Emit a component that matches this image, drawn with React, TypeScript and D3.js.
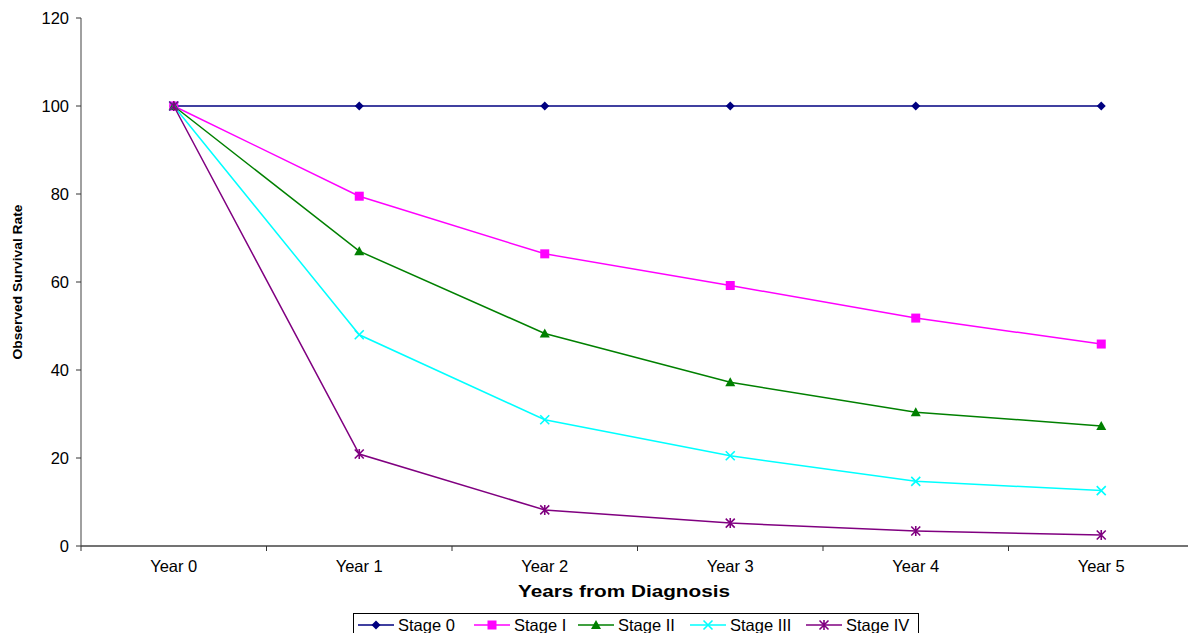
import React from "react";
import * as d3 from "d3";

const categories = ["Year 0", "Year 1", "Year 2", "Year 3", "Year 4", "Year 5"];
const stage0 = [100, 100, 100, 100, 100, 100];
const stageI = [100, 79.5, 66.4, 59.2, 51.8, 45.9];
const stageII = [100, 67.0, 48.3, 37.2, 30.4, 27.3];
const stageIII = [100, 48.0, 28.7, 20.5, 14.7, 12.6];
const stageIV = [100, 20.9, 8.2, 5.2, 3.4, 2.5];
const seriesNames = ["Stage 0", "Stage I", "Stage II", "Stage III", "Stage IV"];
const yTicks = [0, 20, 40, 60, 80, 100, 120];

const seriesValues = [stage0, stageI, stageII, stageIII, stageIV];
const colors = ["#000080", "#FF00FF", "#008000", "#00FFFF", "#800080"];
const markers = ["diamond", "square", "triangle", "x", "star"];

const W = 1188;
const H = 633;
const left = 81;
const top = 18;
const bottom = 546;

function Marker({ type, x, y, color }: { type: string; x: number; y: number; color: string }) {
  if (type === "diamond") {
    const s = 4.5;
    return <path d={`M${x},${y - s}L${x + s},${y}L${x},${y + s}L${x - s},${y}Z`} fill={color} />;
  }
  if (type === "square") {
    const s = 4.5;
    return <rect x={x - s} y={y - s} width={s * 2} height={s * 2} fill={color} />;
  }
  if (type === "triangle") {
    const s = 5;
    return <path d={`M${x},${y - s}L${x + s},${y + s * 0.8}L${x - s},${y + s * 0.8}Z`} fill={color} />;
  }
  if (type === "x") {
    const s = 4.5;
    return (
      <path d={`M${x - s},${y - s}L${x + s},${y + s}M${x - s},${y + s}L${x + s},${y - s}`} stroke={color} strokeWidth={1.6} fill="none" />
    );
  }
  const s = 4.5;
  return (
    <path
      d={`M${x - s},${y - s}L${x + s},${y + s}M${x - s},${y + s}L${x + s},${y - s}M${x},${y - s - 0.5}L${x},${y + s + 0.5}`}
      stroke={color}
      strokeWidth={1.6}
      fill="none"
    />
  );
}

export default function App() {
  const x = d3.scaleBand<string>().domain(categories).range([left, left + 6 * 185.5]).padding(0);
  const y = d3.scaleLinear().domain([0, 120]).range([bottom, top]);
  const cx = (c: string) => (x(c) as number) + x.bandwidth() / 2;
  const line = d3
    .line<number>()
    .x((_, i) => cx(categories[i]))
    .y((d) => y(d));

  const legendItems = [
    { lx: 358, tx: 398 },
    { lx: 474, tx: 514 },
    { lx: 578, tx: 618 },
    { lx: 690, tx: 730 },
    { lx: 806, tx: 846 },
  ];

  return (
    <svg width={W} height={H} style={{ position: "absolute", left: 0, top: 0, fontFamily: "'Liberation Sans', Arial, sans-serif" }}>
      <rect width={W} height={H} fill="#fff" />
      {/* y axis */}
      <line x1={left} x2={left} y1={top} y2={bottom} stroke="#808080" strokeWidth={1.5} />
      {yTicks.map((t) => (
        <g key={t}>
          <line x1={left - 5} x2={left} y1={y(t)} y2={y(t)} stroke="#333" strokeWidth={1} />
          <text x={69} y={y(t)} dy="0.35em" textAnchor="end" fontSize={16.5} fill="#000">
            {t}
          </text>
        </g>
      ))}
      {/* x axis */}
      <line x1={left} x2={W} y1={bottom} y2={bottom} stroke="#444" strokeWidth={1.5} />
      {categories.map((c) => (
        <g key={c}>
          <line x1={x(c) as number} x2={x(c) as number} y1={bottom} y2={bottom + 5} stroke="#333" strokeWidth={1} />
          <text x={cx(c)} y={572} textAnchor="middle" fontSize={16.5} fill="#000">
            {c}
          </text>
        </g>
      ))}
      <text x={624} y={597} textAnchor="middle" fontSize={16} fontWeight="bold" fill="#000" textLength={212} lengthAdjust="spacingAndGlyphs">
        Years from Diagnosis
      </text>
      <text
        transform={`translate(22,${282}) rotate(-90)`}
        textAnchor="middle"
        fontSize={13.5}
        fontWeight="bold"
        textLength={155}
        lengthAdjust="spacingAndGlyphs"
        fill="#000"
      >
        Observed Survival Rate
      </text>
      {/* series */}
      {seriesValues.map((vals, si) => (
        <g key={si}>
          <path d={line(vals) || ""} fill="none" stroke={colors[si]} strokeWidth={1.5} />
          {vals.map((v, i) => (
            <Marker key={i} type={markers[si]} x={cx(categories[i])} y={y(v)} color={colors[si]} />
          ))}
        </g>
      ))}
      {/* legend */}
      <rect x={353.5} y={613.5} width={565} height={26} fill="#fff" stroke="#000" strokeWidth={1} />
      {seriesNames.map((n, i) => (
        <g key={n}>
          <line x1={legendItems[i].lx} x2={legendItems[i].lx + 36} y1={625} y2={625} stroke={colors[i]} strokeWidth={1.5} />
          <Marker type={markers[i]} x={legendItems[i].lx + 18} y={625} color={colors[i]} />
          <text x={legendItems[i].tx} y={631} fontSize={16.5} fill="#000">
            {n}
          </text>
        </g>
      ))}
    </svg>
  );
}
